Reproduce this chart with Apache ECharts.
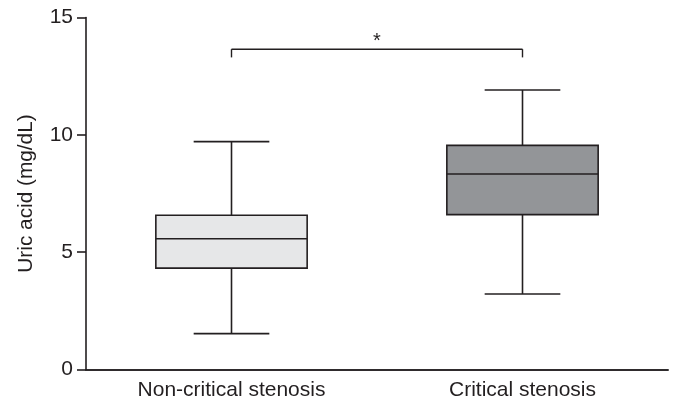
<!DOCTYPE html>
<html>
<head>
<meta charset="utf-8">
<script src="https://cdn.jsdelivr.net/npm/echarts@6/dist/echarts.min.js"></script>
<style>
  html, body { margin: 0; padding: 0; background: #fff; }
  #chart { width: 678px; height: 404px; }
</style>
</head>
<body>
<div id="chart"></div>
<script>
// groups on the x axis
const categories = ["Non-critical stenosis", "Critical stenosis"];
// [min, Q1, median, Q3, max]
const nonCritical = [1.53, 4.32, 5.57, 6.57, 9.71];
const critical = [3.22, 6.6, 8.33, 9.55, 11.91];
const boxFills = ["#e6e7e8", "#939598"];
// significance bracket: [from category, to category, bar level, end level, label]
const bracket = [0, 1, 13.65, 13.3, "*"];
const yTicks = [0, 5, 10, 15];

const lineColor = "#231f20";
const fontFamily = "'Liberation Sans', Arial, sans-serif";

const chart = echarts.init(document.getElementById("chart"));

const boxData = [nonCritical, critical].map((v, i) => [i].concat(v));

function renderBox(params, api) {
  const idx = api.value(0);
  const lo = api.coord([idx, api.value(1)]);
  const q1 = api.coord([idx, api.value(2)]);
  const med = api.coord([idx, api.value(3)]);
  const q3 = api.coord([idx, api.value(4)]);
  const hi = api.coord([idx, api.value(5)]);
  const band = api.size([1, 0])[0];
  const half = band * 0.26;
  const cap = half / 2;
  const x = lo[0];
  const ls = { stroke: lineColor, lineWidth: 1.6 };
  return {
    type: "group",
    children: [
      { type: "line", shape: { x1: x, y1: hi[1], x2: x, y2: q3[1] }, style: ls },
      { type: "line", shape: { x1: x, y1: q1[1], x2: x, y2: lo[1] }, style: ls },
      { type: "line", shape: { x1: x - cap, y1: hi[1], x2: x + cap, y2: hi[1] }, style: ls },
      { type: "line", shape: { x1: x - cap, y1: lo[1], x2: x + cap, y2: lo[1] }, style: ls },
      {
        type: "rect",
        shape: { x: x - half, y: q3[1], width: half * 2, height: q1[1] - q3[1] },
        style: { fill: boxFills[idx], stroke: lineColor, lineWidth: 1.6 }
      },
      { type: "line", shape: { x1: x - half, y1: med[1], x2: x + half, y2: med[1] }, style: ls }
    ]
  };
}

function renderBracket(params, api) {
  const a = api.coord([bracket[0], bracket[2]]);
  const b = api.coord([bracket[1], bracket[2]]);
  const drop = api.coord([bracket[0], bracket[3]]);
  const ls = { stroke: lineColor, lineWidth: 1.4 };
  return {
    type: "group",
    children: [
      { type: "line", shape: { x1: a[0], y1: a[1], x2: b[0], y2: b[1] }, style: ls },
      { type: "line", shape: { x1: a[0], y1: a[1], x2: a[0], y2: drop[1] }, style: ls },
      { type: "line", shape: { x1: b[0], y1: b[1], x2: b[0], y2: drop[1] }, style: ls },
      {
        type: "text",
        style: {
          x: (a[0] + b[0]) / 2, y: a[1] - 8, text: bracket[4],
          fill: lineColor, font: "20px " + fontFamily,
          align: "center", verticalAlign: "middle"
        }
      }
    ]
  };
}

chart.setOption({
  animation: false,
  grid: { left: 86, right: 10, top: 17.5, bottom: 34.5 },
  xAxis: [
    {
      type: "category",
      data: categories,
      boundaryGap: true,
      axisLine: { lineStyle: { color: lineColor, width: 1.6 } },
      axisTick: { alignWithLabel: true, length: 7, lineStyle: { color: lineColor, width: 1.6 } },
      axisLabel: { color: "#231f20", fontSize: 21, fontFamily: fontFamily, margin: 10 }
    },
    {
      type: "category",
      data: [""],
      position: "bottom",
      boundaryGap: true,
      axisLine: { lineStyle: { color: lineColor, width: 1.6 } },
      axisTick: { length: 7, lineStyle: { color: lineColor, width: 1.6 } },
      axisLabel: { show: false }
    }
  ],
  yAxis: {
    type: "value",
    min: yTicks[0],
    max: yTicks[yTicks.length - 1],
    interval: 5,
    name: "Uric acid (mg/dL)",
    nameLocation: "middle",
    nameGap: 49,
    nameTextStyle: { color: "#231f20", fontSize: 20.8, fontFamily: fontFamily },
    splitLine: { show: false },
    axisLine: { show: true, lineStyle: { color: lineColor, width: 1.6 } },
    axisTick: { show: true, length: 9, lineStyle: { color: lineColor, width: 1.6 } },
    axisLabel: { color: "#231f20", fontSize: 21, fontFamily: fontFamily, margin: 13 }
  },
  series: [
    {
      type: "custom",
      xAxisIndex: 0,
      renderItem: renderBox,
      encode: { x: 0, y: [1, 2, 3, 4, 5] },
      data: boxData
    },
    {
      type: "custom",
      xAxisIndex: 0,
      renderItem: renderBracket,
      encode: { x: [0, 1], y: [2, 3] },
      data: [bracket.slice(0, 4)]
    }
  ]
});
</script>
</body>
</html>
